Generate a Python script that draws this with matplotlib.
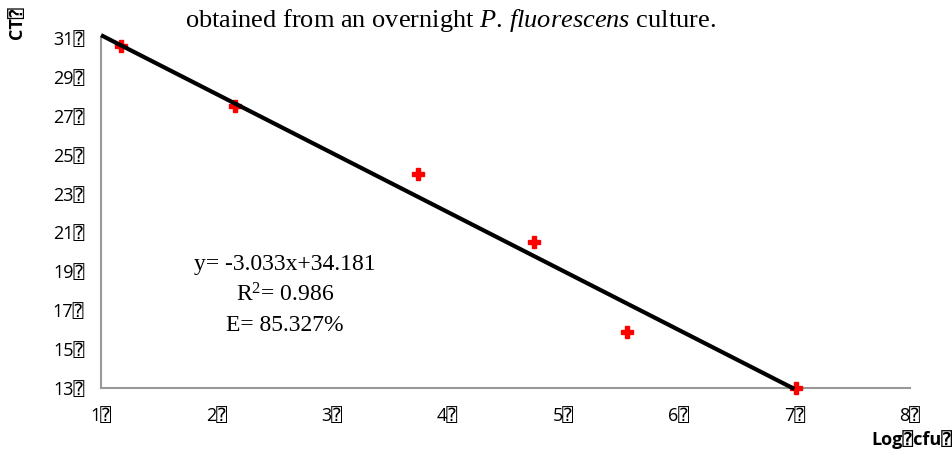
import matplotlib
matplotlib.use("Agg")
import matplotlib.pyplot as plt
import numpy as np

plt.rcParams["mathtext.fontset"] = "custom"
plt.rcParams["mathtext.rm"] = "Liberation Serif"
plt.rcParams["mathtext.it"] = "Liberation Serif:italic"

# standard curve: log cfu vs CT
log_cfu = [1.17, 2.16, 3.74, 4.75, 5.55, 7.01]
ct_vals = [30.6, 27.5, 24.0, 20.5, 15.9, 13.0]
slope, intercept = -3.033, 34.181
x_ticks = [1, 2, 3, 4, 5, 6, 7, 8]
y_ticks = [13, 15, 17, 19, 21, 23, 25, 27, 29, 31]
box = "\u2370"

fig = plt.figure(figsize=(9.53, 4.55), dpi=100)
ax = fig.add_axes([101/953, (455-388)/455, (910-101)/953, (388-38)/455])

ax.plot(log_cfu, ct_vals, linestyle="none", marker="P", color="red",
        markersize=9, zorder=3, clip_on=False)
fx = np.array([1.0, 7.0])
ax.plot(fx, slope*fx + intercept, color="black", lw=3, zorder=4,
        solid_capstyle="butt", clip_on=False)

ax.set_xlim(1, 8)
ax.set_ylim(13, 31)
ax.set_xticks(x_ticks)
ax.set_yticks(y_ticks)
fam = ["Open Sans", "DejaVu Sans Mono", "DejaVu Sans"]
ax.set_xticklabels([f"{t}{box}" for t in x_ticks], family=fam, fontsize=13)
ax.set_yticklabels([f"{t}{box}" for t in y_ticks], family=fam, fontsize=13)
ax.tick_params(axis="x", length=0, pad=14)
ax.tick_params(axis="y", length=0, pad=12)
for s in ["top", "right"]:
    ax.spines[s].set_visible(False)
for s in ["left", "bottom"]:
    ax.spines[s].set_color("#999999")
    ax.spines[s].set_linewidth(1.5)

ax.text(2.59, 17.8, "y= -3.033x+34.181\nR$^2$= 0.986\nE= 85.327%",
        ha="center", va="center", family="Liberation Serif", fontsize=17,
        linespacing=1.5)

fig.text(0.473, 0.955, "obtained from an overnight $\\it{P.\\,fluorescens}$ culture.",
         ha="center", va="center", family="Liberation Serif", fontsize=19)
fig.text(0.018, 0.95, f"CT{box}", rotation=90, ha="center", va="center",
         family=fam, fontsize=13, weight="bold")
fig.text(0.999, 0.033, f"Log{box}cfu{box}", ha="right", va="center",
         family=fam, fontsize=13, weight="bold")

fig.savefig("out.png", dpi=100)
